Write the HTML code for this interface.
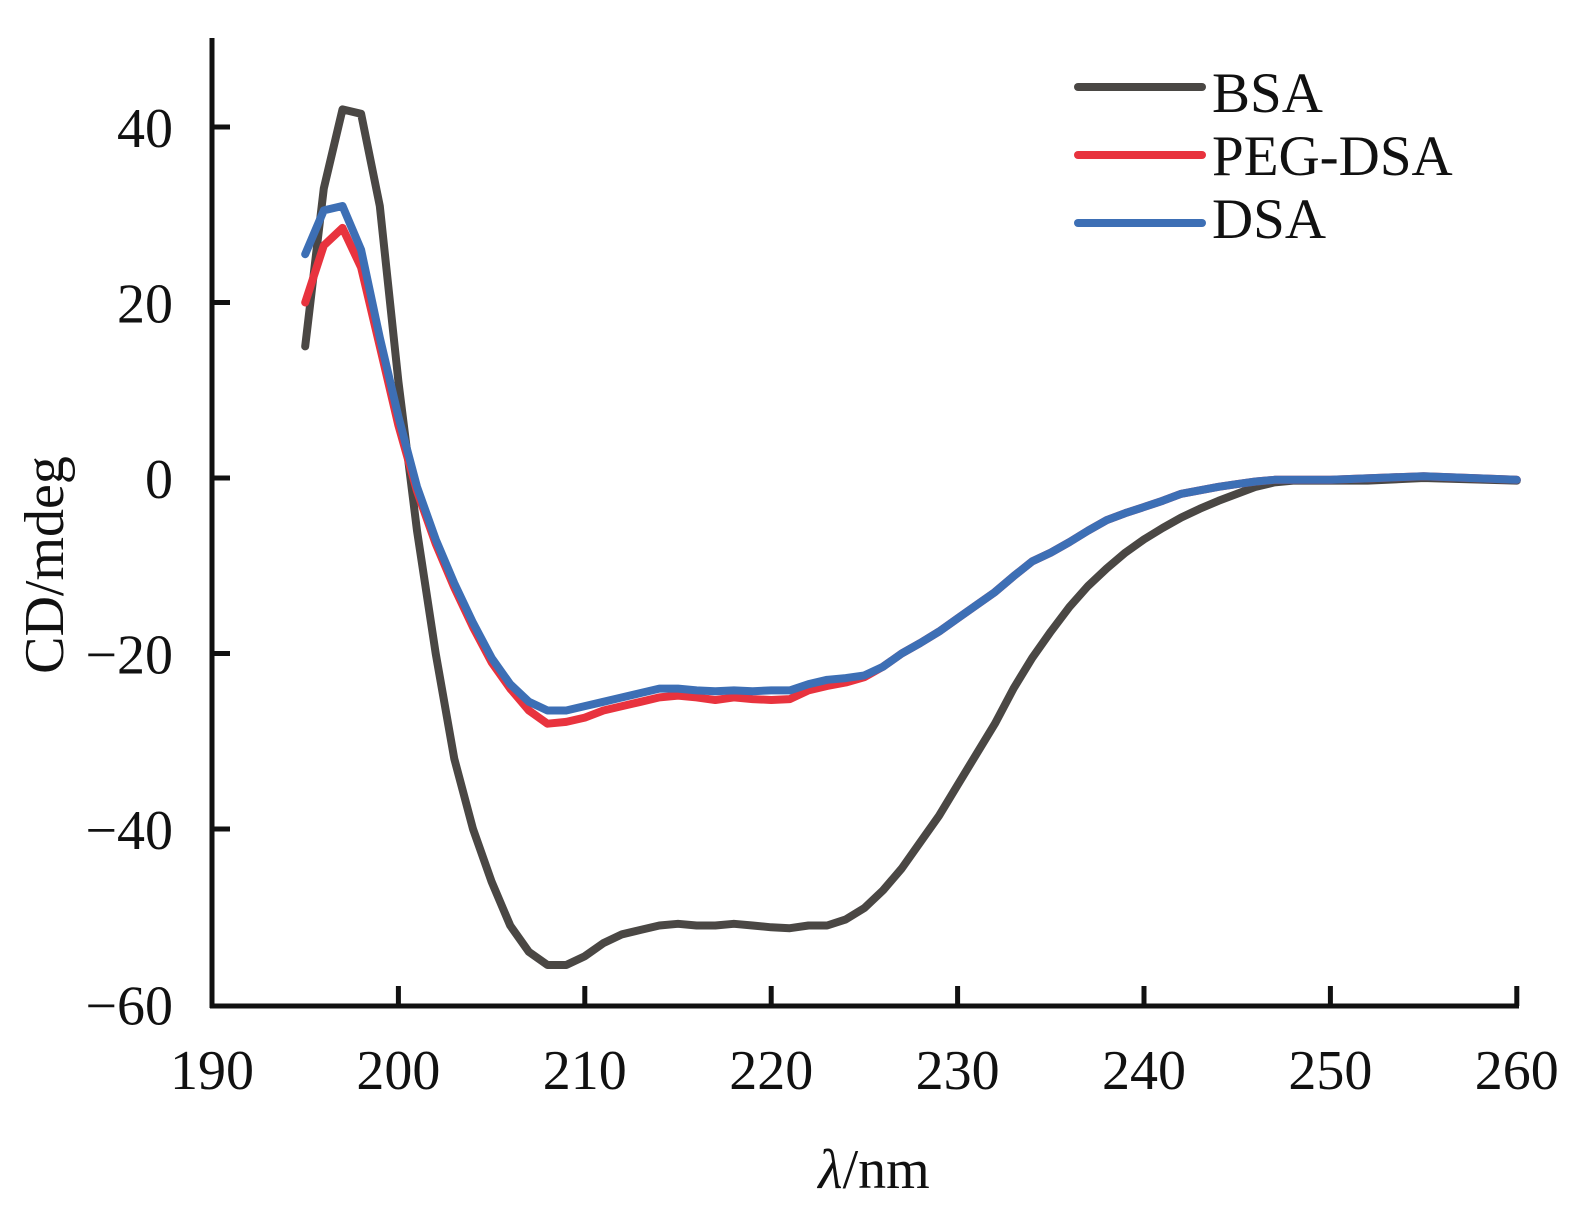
<!DOCTYPE html>
<html><head><meta charset="utf-8"><style>
body{margin:0;background:#fff}
svg text{font-family:"Liberation Serif",serif;fill:#111}
</style></head><body>
<svg id="s" width="1592" height="1224" viewBox="0 0 1592 1224" xmlns="http://www.w3.org/2000/svg">
<g stroke="#111" stroke-width="5" fill="none">
<line x1="212" y1="38" x2="212" y2="1008"/>
<line x1="210" y1="1006" x2="1519" y2="1006"/>
</g>
<g id="ticks" stroke="#111" stroke-width="5"></g>
<g font-size="56" text-anchor="end" id="ylab"></g>
<g font-size="56" text-anchor="middle" id="xlab"></g>
<text x="63" y="565" font-size="56" text-anchor="middle" transform="rotate(-90 63 565)">CD/mdeg</text>
<text x="874" y="1188" font-size="56" text-anchor="middle"><tspan font-style="italic">λ</tspan>/nm</text>
<g stroke-width="8" stroke-linecap="round">
<line x1="1078" y1="87" x2="1202" y2="87" stroke="#4a4744"/>
<line x1="1078" y1="155" x2="1202" y2="155" stroke="#e8333e"/>
<line x1="1078" y1="223" x2="1202" y2="223" stroke="#3d6fb5"/>
</g>
<g font-size="57">
<text x="1212" y="112">BSA</text>
<text x="1212" y="175">PEG-DSA</text>
<text x="1212" y="238">DSA</text>
</g>
<g id="curves" fill="none" stroke-width="8" stroke-linejoin="round" stroke-linecap="round"></g>
</svg>
<script>
var X=function(n){return 212+(n-190)*18.64}, Y=function(v){return 478-v*8.775};
var ns="http://www.w3.org/2000/svg";
function el(p,t,a,txt){var e=document.createElementNS(ns,t);for(var k in a)e.setAttribute(k,a[k]);if(txt!==undefined)e.textContent=txt;document.getElementById(p).appendChild(e);}
for(var n=200;n<=260;n+=10){el('ticks','line',{x1:X(n),y1:1006,x2:X(n),y2:986});}
for(var v=-60;v<=40;v+=20){if(v>-60)el('ticks','line',{x1:212,y1:Y(v),x2:230,y2:Y(v)});}
for(var v=-60;v<=40;v+=20){el('ylab','text',{x:173,y:Y(v)+20},v<0?'−'+(-v):''+v);}
for(var n=190;n<=260;n+=10){el('xlab','text',{x:X(n),y:1089},''+n);}
var bsa=[[195,15],[196,33],[197,42],[198,41.5],[199,31],[200,11],[201,-6],[202,-20],[203,-32],[204,-40],[205,-46],[206,-51],[207,-54],[208,-55.5],[209,-55.5],[210,-54.5],[211,-53],[212,-52],[213,-51.5],[214,-51],[215,-50.8],[216,-51],[217,-51],[218,-50.8],[219,-51],[220,-51.2],[221,-51.3],[222,-51],[223,-51],[224,-50.3],[225,-49],[226,-47],[227,-44.5],[228,-41.5],[229,-38.5],[230,-35],[231,-31.5],[232,-28],[233,-24],[234,-20.5],[235,-17.5],[236,-14.7],[237,-12.3],[238,-10.3],[239,-8.5],[240,-7],[241,-5.7],[242,-4.5],[243,-3.5],[244,-2.6],[245,-1.8],[246,-1],[247,-0.5],[248,-0.3],[250,-0.3],[252,-0.3],[255,0],[260,-0.3]];
var tail=[[226,-21.5],[227,-20],[228,-18.8],[229,-17.5],[230,-16],[231,-14.5],[232,-13],[233,-11.2],[234,-9.5],[235,-8.5],[236,-7.3],[237,-6],[238,-4.8],[239,-4],[240,-3.3],[241,-2.6],[242,-1.8],[243,-1.4],[244,-1],[245,-0.7],[246,-0.4],[247,-0.2],[250,-0.2],[255,0.2],[260,-0.2]];
var dsa=[[195,25.5],[196,30.5],[197,31],[198,26],[199,16],[200,7],[201,-1],[202,-7],[203,-12],[204,-16.5],[205,-20.5],[206,-23.5],[207,-25.5],[208,-26.5],[209,-26.5],[210,-26],[211,-25.5],[212,-25],[213,-24.5],[214,-24],[215,-24],[216,-24.2],[217,-24.3],[218,-24.2],[219,-24.3],[220,-24.2],[221,-24.2],[222,-23.5],[223,-23],[224,-22.8],[225,-22.5]].concat(tail);
var peg=[[195,20],[196,26.5],[197,28.5],[198,24],[199,15],[200,6],[201,-1.5],[202,-7.5],[203,-12.5],[204,-17],[205,-21],[206,-24],[207,-26.5],[208,-28],[209,-27.8],[210,-27.3],[211,-26.5],[212,-26],[213,-25.5],[214,-25],[215,-24.8],[216,-25],[217,-25.3],[218,-25],[219,-25.2],[220,-25.3],[221,-25.2],[222,-24.2],[223,-23.7],[224,-23.3],[225,-22.7]].concat(tail);
function d(a){return a.map(function(p,i){return (i?'L':'M')+X(p[0]).toFixed(1)+' '+Y(p[1]).toFixed(1)}).join(' ');}
el('curves','path',{d:d(bsa),stroke:'#4a4744'});
el('curves','path',{d:d(peg),stroke:'#e8333e'});
el('curves','path',{d:d(dsa),stroke:'#3d6fb5'});
</script>
</body></html>
